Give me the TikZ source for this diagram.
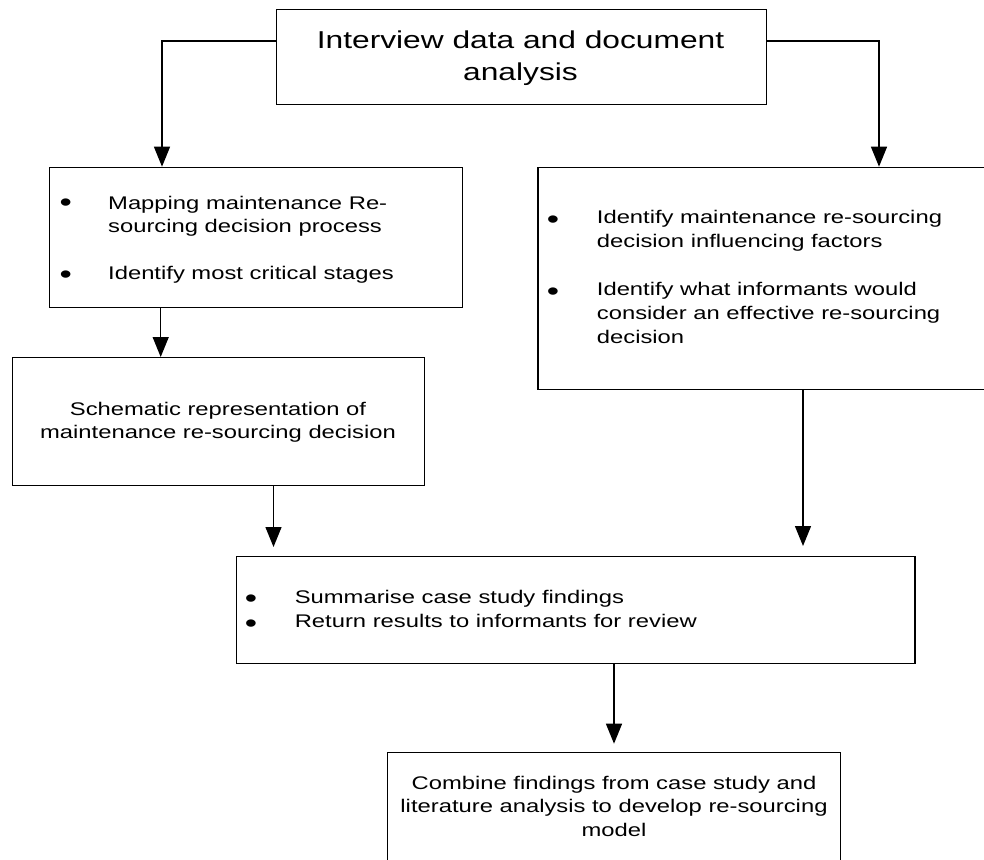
\documentclass[tikz,border=0pt]{standalone}
\usepackage{fontspec}
\setmainfont{Liberation Sans}[FakeStretch=1.3]
\usetikzlibrary{arrows.meta}
\begin{document}
\begin{tikzpicture}[x=1pt,y=-1pt,
  box/.style={draw,line width=1.3pt,inner sep=0pt,anchor=north west},
  arr/.style={line width=1.3pt,-{Triangle[width=16pt,length=20pt]}},
  body/.style={inner sep=0pt,anchor=base west,font=\fontsize{18.3}{22}\selectfont},
  bodyc/.style={body,anchor=base},
  % bullet glyph set larger; its base sits about 10pt below the dot centre
  bul/.style={inner sep=0pt,anchor=base,yshift=-10.3pt,font=\fontsize{27}{30}\selectfont},
  head/.style={inner sep=0pt,anchor=base,font=\fontsize{24.4}{31}\selectfont}]
\useasboundingbox (0,0) rectangle (984,859);
\clip (0,0) rectangle (984,859);

% boxes
\node[box,minimum width=490.5pt,minimum height=94.5pt] (top) at (275.5,9) {};
\node[box,minimum width=413pt,minimum height=140pt] (map) at (49,166.7) {};
\node[box,minimum width=412.3pt,minimum height=128pt] (schem) at (11.7,357) {};
\node[box,minimum width=470pt,minimum height=222pt] (infl) at (537.3,166.7) {};
\node[box,minimum width=678.7pt,minimum height=107pt] (summ) at (235.6,556) {};
\node[box,minimum width=453.5pt,minimum height=130pt] (comb) at (386.5,751.7) {};

% heading
\node[head] (h1) at (520.5,48.5) {Interview data and document};
\node[head] (h2) at (520.5,80.5) {analysis};

% mapping box
\node[bul] (mb1) at (65.8,201.2) {•};
\node[body] (m1) at (108,209) {Mapping maintenance Re-};
\node[body] (m2) at (108,232) {sourcing decision process};
\node[bul] (mb2) at (65.8,273.3) {•};
\node[body] (m3) at (108,279.8) {Identify most critical stages};

% schematic box
\node[bodyc] (s1) at (218,415) {Schematic representation of};
\node[bodyc] (s2) at (218,438) {maintenance re-sourcing decision};

% influencing factors box
\node[bul] (ib1) at (553,218.3) {•};
\node[body] (i1) at (596.7,223.5) {Identify maintenance re-sourcing};
\node[body] (i2) at (596.7,247) {decision influencing factors};
\node[bul] (ib2) at (553,290) {•};
\node[body] (i3) at (596.7,295.5) {Identify what informants would};
\node[body] (i4) at (596.7,319) {consider an effective re-sourcing};
\node[body] (i5) at (596.7,343) {decision};

% summary box
\node[bul] (sb1) at (251,596.7) {•};
\node[body] (u1) at (294.6,603.3) {Summarise case study findings};
\node[bul] (sb2) at (251,622.3) {•};
\node[body] (u2) at (294.6,627.5) {Return results to informants for review};

% final box
\node[bodyc] (c1) at (614,789) {Combine findings from case study and};
\node[bodyc] (c2) at (614,812.7) {literature analysis to develop re-sourcing};
\node[bodyc] (c3) at (614,836.5) {model};

% connectors
\draw[arr] (top.west |- 0,41) -| (map.north -| 162,0);
\draw[arr] (top.east |- 0,41) -| (infl.north -| 879,0);
\draw[arr] (map.south -| 160.7,0) -- (schem.north -| 160.7,0);
\draw[arr,shorten >=9pt] (schem.south -| 273.5,0) -- (summ.north -| 273.5,0);
\draw[arr,shorten >=10pt] (infl.south -| 803,0) -- (summ.north -| 803,0);
\draw[arr,shorten >=8pt] (summ.south -| 614,0) -- (comb.north -| 614,0);
\end{tikzpicture}
\end{document}
